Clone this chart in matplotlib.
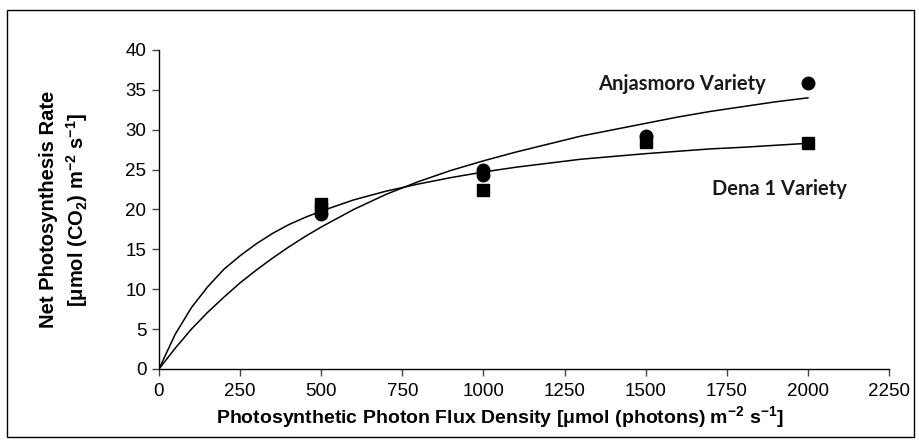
#!/usr/bin/env python3
"""
Light response curves of net photosynthesis for two soybean varieties
"""
import matplotlib
matplotlib.use('Agg')
import matplotlib.pyplot as plt
from matplotlib.patches import Rectangle

# Measured points
anjasmoro_ppfd = [500, 1000, 1000, 1500, 2000]
anjasmoro_pn = [19.4, 25.0, 24.3, 29.2, 35.8]
dena_ppfd = [500, 500, 1000, 1500, 2000]
dena_pn = [20.2, 20.7, 22.4, 28.4, 28.3]

# Fitted curves
curve_ppfd = [0, 50, 100, 150, 200, 250, 300, 350, 400, 450, 500,
              600, 700, 800, 900, 1000, 1100, 1200, 1300, 1400, 1500,
              1600, 1700, 1800, 1900, 2000]
anjasmoro_curve = [0, 2.6, 5.0, 7.1, 9.0, 10.8, 12.4, 13.9, 15.3, 16.6, 17.8,
                   20.0, 21.9, 23.5, 24.9, 26.1, 27.2, 28.2, 29.2, 30.0, 30.8,
                   31.6, 32.3, 32.9, 33.5, 34.0]
dena_curve = [0, 4.35, 7.7, 10.3, 12.5, 14.2, 15.7, 17.0, 18.1, 19.0, 19.8,
              21.2, 22.3, 23.2, 24.0, 24.7, 25.3, 25.8, 26.3, 26.65, 27.0,
              27.3, 27.6, 27.8, 28.05, 28.3]

x_ticks = [0, 250, 500, 750, 1000, 1250, 1500, 1750, 2000, 2250]
y_ticks = [0, 5, 10, 15, 20, 25, 30, 35, 40]

plt.rcParams['font.family'] = ['Liberation Sans', 'DejaVu Sans']
plt.rcParams['mathtext.fontset'] = 'custom'
plt.rcParams['mathtext.rm'] = 'Liberation Sans'
plt.rcParams['mathtext.bf'] = 'Liberation Sans:bold'

fig = plt.figure(figsize=(9.2, 4.42), dpi=100)
ax = fig.add_axes([0.1728, 0.1652, 0.7935, 0.7217])

# outer chart frame
fig.patches.append(Rectangle((0.008, 0.011), 0.985, 0.967, transform=fig.transFigure,
                             fill=False, edgecolor='black', linewidth=1.0))

ax.plot(curve_ppfd, anjasmoro_curve, color='black', linewidth=1.1)
ax.plot(curve_ppfd, dena_curve, color='black', linewidth=1.1)
ax.plot(dena_ppfd, dena_pn, 's', color='black', markersize=8.5, linestyle='none')
ax.plot(anjasmoro_ppfd, anjasmoro_pn, 'o', color='black', markersize=9, linestyle='none')

ax.set_xlim(0, 2250)
ax.set_ylim(0, 40)
ax.set_xticks(x_ticks)
ax.set_yticks(y_ticks)
ax.tick_params(axis='y', labelsize=13.5, length=5, width=1, color='#444444', pad=4)
ax.tick_params(axis='x', labelsize=13.5, length=5, width=1, color='#444444', pad=5)

ax.spines['top'].set_visible(False)
ax.spines['right'].set_visible(False)
ax.spines['left'].set_linewidth(1)
ax.spines['bottom'].set_linewidth(1)

ax.set_xlabel(r'Photosynthetic Photon Flux Density [μmol (photons) m$^{\mathbf{-2}}$ s$^{\mathbf{-1}}$]',
              fontsize=14, fontweight='bold')
ax.xaxis.set_label_coords(0.467, -0.11)
ax.set_ylabel('Net Photosynthesis Rate\n'
              r'[μmol (CO$_{\mathbf{2}}$) m$^{\mathbf{-2}}$ s$^{\mathbf{-1}}$]',
              fontsize=14.5, fontweight='bold', linespacing=1.3)
ax.yaxis.set_label_coords(-0.095, 0.5)

ax.text(1353, 35.7, 'Anjasmoro Variety', fontsize=14.5, fontweight='bold',
        family=['Lato', 'DejaVu Sans'], color='#1a1a1a', va='center')
ax.text(1704, 22.6, 'Dena 1 Variety', fontsize=14.5, fontweight='bold',
        family=['Lato', 'DejaVu Sans'], color='#1a1a1a', va='center')

plt.savefig('out.png', dpi=100)
plt.close()
